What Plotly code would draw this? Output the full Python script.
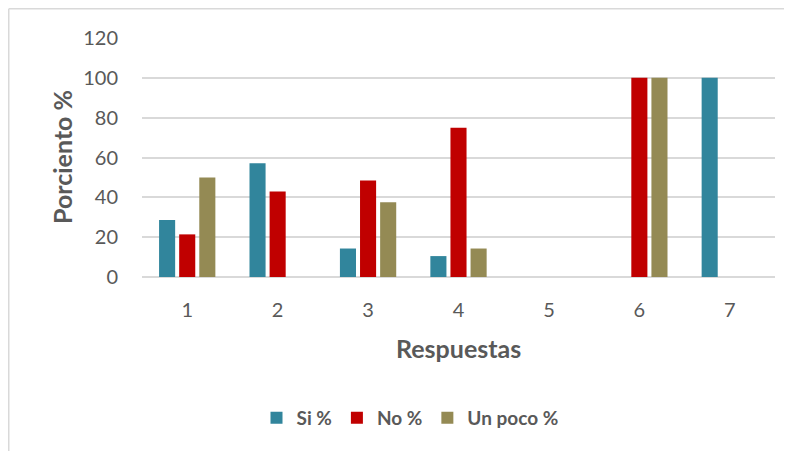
import plotly.graph_objects as go

categories = ["1", "2", "3", "4", "5", "6", "7"]
si_vals = [28.6, 57.1, 14.3, 10.5, 0, 0, 100]
no_vals = [21.4, 42.9, 48.4, 75, 0, 100, 0]
poco_vals = [50, 0, 37.5, 14.3, 0, 100, 0]
series_names = ["Si %", "No %", "Un poco %"]
colors = ["#31859C", "#C00000", "#948A54"]
y_ticks = [0, 20, 40, 60, 80, 100, 120]

FONT = "Lato, 'Open Sans', sans-serif"
TXT = "#595959"

# page body adds an 8px offset; the figure is sized to fill the rest
OFF = 8
FW, FH = 792 - OFF, 451 - OFF
L, T = 142 - OFF, 38 - OFF
R = FW - (775 - OFF)
B = FH - (277 - OFF)
W, H = FW - L - R, FH - T - B

def px(x):
    return (x - OFF - L) / W

def py(y):
    return (FH - B - (y - OFF)) / H

fig = go.Figure()
for name, vals, col in zip(series_names, [si_vals, no_vals, poco_vals], colors):
    fig.add_trace(go.Bar(x=categories, y=vals, name=name,
                         marker=dict(color=col, line=dict(width=0))))

fig.update_layout(
    width=FW, height=FH,
    margin=dict(l=L, r=R, t=T, b=B),
    paper_bgcolor="white", plot_bgcolor="white",
    barmode="group", bargap=0.333, bargroupgap=0.2,
    font=dict(family=FONT, color=TXT, size=20),
    showlegend=True,
    legend=dict(orientation="h", x=px(410), xanchor="center", y=py(418), yanchor="middle",
                font=dict(size=19, color=TXT, family=FONT, weight="bold"),
                itemclick=False, traceorder="normal"),
    xaxis=dict(type="category", showgrid=False, showline=False, zeroline=False,
               ticks="", ticklabelstandoff=19,
               tickfont=dict(size=20, color=TXT)),
    yaxis=dict(range=[0, 120], tickvals=y_ticks, showgrid=True, gridcolor="#D9D9D9",
               gridwidth=1.5, zeroline=True, zerolinecolor="#D9D9D9", zerolinewidth=1.5,
               showline=False, ticks="", ticklabelstandoff=23,
               tickfont=dict(size=20, color=TXT)),
    annotations=[
        dict(text="<b>Respuestas</b>", xref="paper", yref="paper", x=px(458), y=py(348),
             showarrow=False, xanchor="center", yanchor="middle",
             font=dict(size=25, color=TXT, family=FONT)),
        dict(text="<b>Porciento %</b>", xref="paper", yref="paper", x=px(62), y=py(157),
             showarrow=False, xanchor="center", yanchor="middle", textangle=-90,
             font=dict(size=25, color=TXT, family=FONT)),
    ],
    shapes=[
        dict(type="line", xref="paper", yref="paper", x0=px(8.75), x1=px(8.75), y0=py(8.75), y1=py(470),
             line=dict(color="#D9D9D9", width=1.5)),
        dict(type="line", xref="paper", yref="paper", x0=px(8.75), x1=px(810), y0=py(8.75), y1=py(8.75),
             line=dict(color="#D9D9D9", width=1.5)),
    ],
)

fig.write_html("out.html")
